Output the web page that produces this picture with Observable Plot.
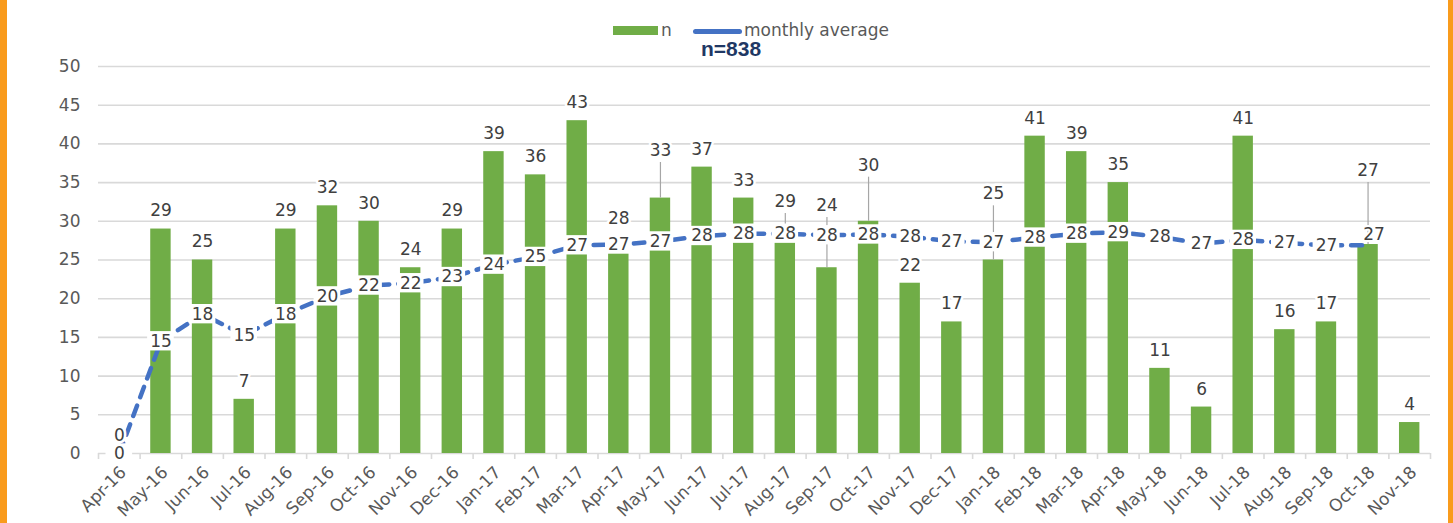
<!DOCTYPE html>
<html>
<head>
<meta charset="utf-8">
<script src="https://cdn.jsdelivr.net/npm/d3@7"></script>
<script src="https://cdn.jsdelivr.net/npm/@observablehq/plot@0.6"></script>
<style>
  body { margin: 0; background: #fff; }
  #frame { width: 1441px; height: 523px; border-left: 7px solid #F99B1C; border-right: 5px solid #F99B1C; background: #fff; overflow: hidden; }
  #legend { position: relative; height: 56px; font-family: "DejaVu Sans", sans-serif; }
  #legend .t { position: absolute; font-size: 17px; line-height: 20px; color: #595959; white-space: nowrap; }
  #chart svg text { paint-order: stroke; }
</style>
</head>
<body>
<div id="frame">
  <div id="legend">
    <div style="position:absolute;left:606px;top:26px;width:45px;height:9px;background:#70AD47"></div>
    <div class="t" style="left:654px;top:20px">n</div>
    <div style="position:absolute;left:686px;top:29px;width:49px;height:4.5px;border-radius:3px;background:#4472C4"></div>
    <div class="t" style="left:737px;top:20px">monthly average</div>
    <div style="position:absolute;left:694px;top:37px;font-family:'Liberation Sans',Arial,sans-serif;font-weight:bold;font-size:21px;line-height:24px;color:#1F3864">n=838</div>
  </div>
  <div id="chart"></div>
</div>
<script>
const months = ["Apr-16","May-16","Jun-16","Jul-16","Aug-16","Sep-16","Oct-16","Nov-16","Dec-16",
  "Jan-17","Feb-17","Mar-17","Apr-17","May-17","Jun-17","Jul-17","Aug-17","Sep-17","Oct-17","Nov-17","Dec-17",
  "Jan-18","Feb-18","Mar-18","Apr-18","May-18","Jun-18","Jul-18","Aug-18","Sep-18","Oct-18","Nov-18"];
const counts = [0,29,25,7,29,32,30,24,29,39,36,43,28,33,37,33,29,24,30,22,17,25,41,39,35,11,6,41,16,17,27,4];
const monthlyAverage = [0,14.5,18,15.3,18,20.3,21.7,22,22.8,24.4,25.4,26.9,27,27.4,28.1,28.4,28.4,28.2,28.3,28,
  27.4,27.3,27.9,28.4,28.6,28,27.1,27.6,27.2,26.9,26.9,null];
const yTicks = [0,5,10,15,20,25,30,35,40,45,50];

const data = months.map((m, i) => ({month: m, n: counts[i], avg: monthlyAverage[i]}));

// layout
const W = 1441, H = 467, ML = 91, MR = 18, MT = 10, MB = 70;
const bw = (W - ML - MR) / months.length;
// label displacement (data units) for labels moved off their bars, with leader lines
const labelLift = {"May-17": 3.8, "Aug-17": 1.2, "Sep-17": 5.7, "Oct-17": 4.9, "Jan-18": 6.2, "Oct-18": 7.2};
const lifted = data.filter(d => labelLift[d.month] !== undefined);
const lineData = data.filter(d => d.avg != null);
const shiftedLineLabel = "Oct-18";

const chart = Plot.plot({
  width: W, height: H,
  marginLeft: ML, marginRight: MR, marginTop: MT, marginBottom: MB,
  style: {fontFamily: "DejaVu Sans, sans-serif", fontSize: "17px", background: "white", color: "#404040", overflow: "visible"},
  x: {type: "band", domain: months, padding: 0, round: false, axis: null},
  y: {domain: [0, 50], axis: null},
  marks: [
    Plot.gridY(yTicks, {stroke: "#d9d9d9", strokeOpacity: 1, strokeWidth: 1.6}),
    Plot.axisY(yTicks, {tickSize: 0, tickPadding: 18, fontSize: 17, color: "#595959", fill: "#595959", label: null}),
    // tick marks at band boundaries
    Plot.ruleX(months, {x: d => d, y1: 0, y2: 0, dx: -bw / 2, insetBottom: -6, stroke: "#d9d9d9", strokeWidth: 1.6}),
    Plot.ruleX(months.slice(-1), {x: d => d, y1: 0, y2: 0, dx: bw / 2, insetBottom: -6, stroke: "#d9d9d9", strokeWidth: 1.6}),
    // x labels
    Plot.text(months, {x: d => d, frameAnchor: "bottom", dy: 16, dx: 4, rotate: -45, textAnchor: "end", lineAnchor: "middle", fill: "#595959", fontSize: 17}),
    // bars
    Plot.barY(data, {x: "month", y: "n", fill: "#70AD47", insetLeft: 10.6, insetRight: 10.6}),
    // leader lines
    Plot.ruleX(lifted, {x: "month", y1: d => d.n, y2: d => d.n + labelLift[d.month] + 0.8, stroke: "#a6a6a6", strokeWidth: 1.2}),
    // average line
    Plot.line(data, {x: "month", y: "avg", stroke: "#4472C4", strokeWidth: 4.5, strokeDasharray: "11,9", strokeLinecap: "round", strokeLinejoin: "round"}),
    // white label boxes for the average labels
    Plot.barY(lineData.filter(d => d.month !== shiftedLineLabel), {x: "month", y1: d => d.avg - 1.25, y2: d => d.avg + 1.25, fill: "white", insetLeft: 7.5, insetRight: 7.5}),
    Plot.text(lineData.filter(d => d.month !== shiftedLineLabel), {x: "month", y: "avg", text: d => String(Math.round(d.avg)), lineAnchor: "middle", fill: "#404040", fontSize: 17}),
    Plot.text(lineData.filter(d => d.month === shiftedLineLabel), {x: "month", y: "avg", text: d => String(Math.round(d.avg)), lineAnchor: "middle", dx: 6, dy: -11, fill: "#404040", fontSize: 17, stroke: "white", strokeWidth: 4, paintOrder: "stroke"}),
    // bar labels
    Plot.text(data, {x: "month", y: d => d.n + (labelLift[d.month] || 0), text: d => String(d.n), dy: -18, lineAnchor: "middle", fill: "#404040", fontSize: 17, stroke: "white", strokeWidth: 5, paintOrder: "stroke"})
  ]
});
document.getElementById("chart").appendChild(chart);
</script>
</body>
</html>
